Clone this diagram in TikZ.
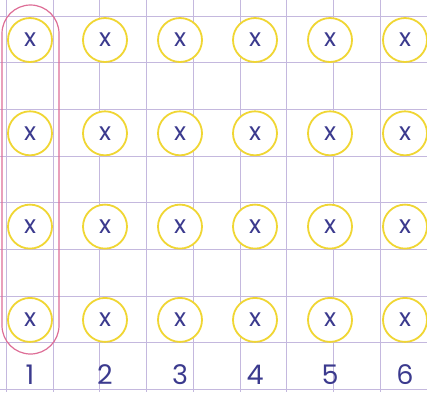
\documentclass[tikz,border=0pt]{standalone}
\usepackage{fontspec}
\setmainfont{Poppins}
\definecolor{gridlilac}{HTML}{C4B8DE}
\definecolor{ringyellow}{HTML}{F0D633}
\definecolor{inkblue}{HTML}{3B3A8E}
\definecolor{groupred}{HTML}{DE6E97}

\begin{document}
\begin{tikzpicture}[x=1pt,y=-1pt,gridline/.style={gridlilac,line width=1pt},counter/.style={circle,draw=ringyellow,line width=1.8pt,fill=white,minimum size=44pt,inner sep=0pt,text=inkblue,font=\fontsize{25}{25}\selectfont},colnum/.style={text=inkblue,font=\fontsize{27}{27}\selectfont,inner sep=0pt},group/.style={draw=groupred,line width=1.2pt,rounded corners=28.5pt}]
\useasboundingbox (0,0) rectangle (427,392);
\fill[white] (0,0) rectangle (427,392);
\foreach \k in {0,...,8}
  \draw[gridline] (6.25+46.75*\k,0) -- (6.25+46.75*\k,392);
\foreach \k in {0,...,8}
  \draw[gridline] (0,16+46.7*\k) -- (427,16+46.7*\k);
\draw[group] (2,5) rectangle (59,354);
\foreach \c in {1,...,6}
  \foreach \r in {1,...,4}
    \node[counter] (c-\c-\r) at (30+75*\c-75,40+93.3*\r-93.3) {x};
\foreach \c in {1,...,6}
  \node[colnum,anchor=base] (n\c) at (30+75*\c-75,384) {\c};
\end{tikzpicture}
\end{document}
